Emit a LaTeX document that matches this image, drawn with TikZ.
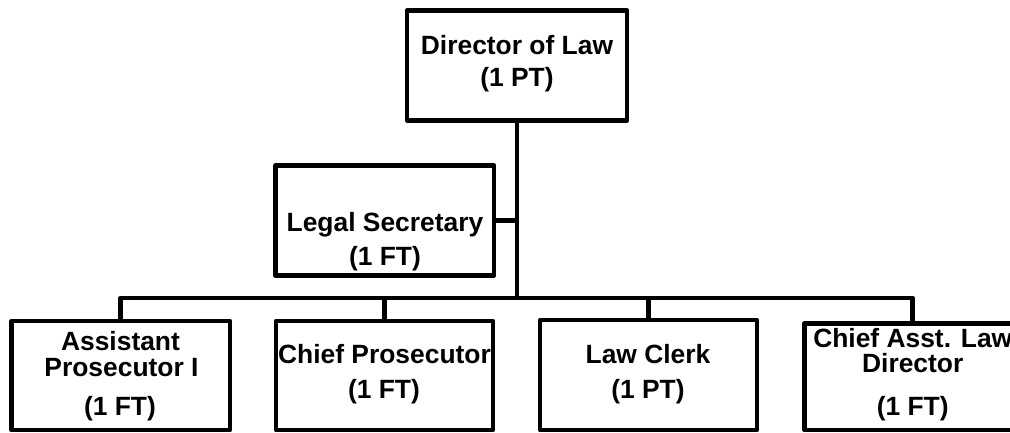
\documentclass[tikz,border=0pt]{standalone}
\usepackage{fontspec}
\setmainfont{Liberation Sans}
\begin{document}
\begin{tikzpicture}[x=1pt,y=-1pt,
  box/.style={draw=black, line width=4.7pt, line join=round, inner sep=0pt, outer sep=0pt, fill=white},
  txt/.style={anchor=base, inner sep=0pt, font=\fontsize{26.4}{30}\bfseries\selectfont},
  conn/.style={draw=black, line width=4.7pt, line join=round}]
\clip (0,0) rectangle (1010,433);
\fill[white] (0,0) rectangle (1010,433);
% boxes
\node[box, minimum width=220pt, minimum height=110pt] (dir) at (517,65.5) {};
\node[box, minimum width=218.5pt, minimum height=110pt] (legal) at (384.75,220.5) {};
\node[box, minimum width=218.5pt, minimum height=109pt] (b1) at (120.75,375.5) {};
\node[box, minimum width=217pt, minimum height=109pt] (b2) at (384.5,375.5) {};
\node[box, minimum width=217pt, minimum height=110pt] (b3) at (648.5,375) {};
\node[box, minimum width=216.5pt, minimum height=106.5pt] (b4) at (912.75,376.75) {};
% connectors
\coordinate (trunk) at (517,298);
\draw[conn] (dir.south) -- (trunk);
\draw[conn] (legal.east) -- (legal.east -| trunk);
\draw[conn] (b1.north) |- (trunk);
\draw[conn] (trunk) -| (b4.north);
\draw[conn] (b2.north) -- (b2.north |- trunk);
\draw[conn] (b3.north) -- (b3.north |- trunk);
% texts
\node[txt] (t1) at (517,54.3) {Director of Law};
\node[txt] (t2) at (517,86.7) {(1 PT)};
\node[txt] (t3) at (385,231.7) {Legal Secretary};
\node[txt] (t4) at (385,265.7) {(1 FT)};
\node[txt] (t5) at (120.5,350) {Assistant};
\node[txt] (t6) at (121.5,376.7) {Prosecutor I};
\node[txt] (t7) at (120,415) {(1 FT)};
\node[txt] (t8) at (384.5,363.3) {Chief Prosecutor};
\node[txt] (t9) at (384,398.3) {(1 FT)};
\node[txt] (t10) at (648,363.3) {Law Clerk};
\node[txt] (t11) at (648,398) {(1 PT)};
\node[txt] (t12) at (912.75,347) {Chief Asst. Law};
\node[txt] (t13) at (912.75,372.5) {Director};
\node[txt] (t14) at (912.75,415) {(1 FT)};
\end{tikzpicture}
\end{document}
